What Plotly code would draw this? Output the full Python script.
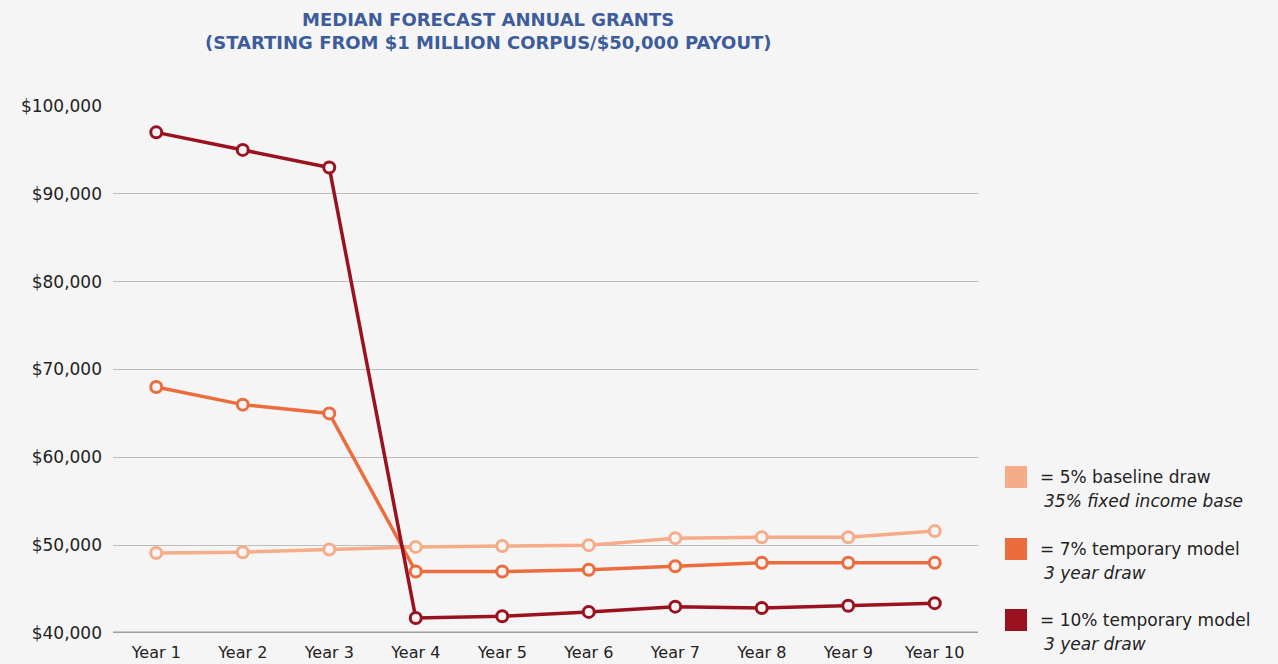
import plotly.graph_objects as go

years = ["Year 1", "Year 2", "Year 3", "Year 4", "Year 5", "Year 6", "Year 7", "Year 8", "Year 9", "Year 10"]
baseline_5 = [49100, 49200, 49500, 49800, 49900, 50000, 50800, 50900, 50900, 51600]
temp_7 = [68000, 66000, 65000, 47000, 47000, 47200, 47600, 48000, 48000, 48000]
temp_10 = [97000, 95000, 93000, 41700, 41900, 42400, 43000, 42850, 43100, 43400]

names = ["= 5% baseline draw", "= 7% temporary model", "= 10% temporary model"]
subs = ["35% fixed income base", "3 year draw", "3 year draw"]
colors = ["#f6ac88", "#ec6c3e", "#9a1220"]
series = [baseline_5, temp_7, temp_10]
title_lines = ["MEDIAN FORECAST ANNUAL GRANTS", "(STARTING FROM $1 MILLION CORPUS/$50,000 PAYOUT)"]

BG = "#f5f5f5"
FONT = "'DejaVu Sans', sans-serif"

W, H = 1278, 664
L, R, T, B = 113, 300, 106, 31

fig = go.Figure()
for vals, c, n in zip(series, colors, names):
    fig.add_trace(go.Scatter(
        x=years, y=vals, mode="lines+markers", name=n,
        line=dict(color=c, width=3.5),
        marker=dict(symbol="circle", size=11, color=BG, line=dict(color=c, width=3)),
        showlegend=False, cliponaxis=False,
    ))

def px(x):
    return (x - L) / (W - L - R)

def py(y):
    return (H - B - y) / (H - T - B)

# title lines
for txt, yc in zip(title_lines, [19, 43]):
    fig.add_annotation(xref="paper", yref="paper", x=px(488), y=py(yc),
                       text="<b>" + txt + "</b>", showarrow=False,
                       xanchor="center", yanchor="middle",
                       font=dict(family=FONT, size=18, color="#3d5c9c"))

# custom legend (positions given in pixels of the page)
sq_tops = [466, 538, 609]
for i in range(3):
    t = sq_tops[i]
    fig.add_shape(type="rect", xref="paper", yref="paper",
                  x0=px(1005), x1=px(1027), y0=py(t + 22), y1=py(t),
                  fillcolor=colors[i], line=dict(width=0))
    fig.add_annotation(xref="paper", yref="paper", x=px(1038), y=py(t + 11),
                       text=names[i], showarrow=False, xanchor="left", yanchor="middle",
                       font=dict(family=FONT, size=17, color="#222222"))
    fig.add_annotation(xref="paper", yref="paper", x=px(1042), y=py(t + 35),
                       text="<i>" + subs[i] + "</i>", showarrow=False, xanchor="left", yanchor="middle",
                       font=dict(family=FONT, size=17, color="#222222"))

fig.update_layout(
    width=W, height=H,
    paper_bgcolor=BG, plot_bgcolor=BG,
    margin=dict(l=L, r=R, t=T, b=B, autoexpand=False),
    xaxis=dict(
        type="category", range=[-0.5, 9.5], showgrid=False, ticks="",
        tickfont=dict(family=FONT, size=16, color="#222222"),
        showline=False, zeroline=False, ticklabelstandoff=8, automargin=False,
    ),
    yaxis=dict(
        range=[40000, 100000], tickvals=[40000, 50000, 60000, 70000, 80000, 90000, 100000],
        tickformat="$,.0f", showgrid=True, gridcolor="#bdbdbd", gridwidth=1,
        tickfont=dict(family=FONT, size=17, color="#222222"), ticks="",
        zeroline=False, showline=False, ticklabelstandoff=10, automargin=False,
    ),
)
fig.add_shape(type="line", xref="paper", yref="y", x0=0, x1=1, y0=40000, y1=40000,
              line=dict(color="#9e9e9e", width=3), layer="below")

fig.write_html("out.html", config={"displayModeBar": False},
               post_script="document.body.style.margin='0';document.body.style.overflow='hidden';document.body.style.background='#f5f5f5';")
